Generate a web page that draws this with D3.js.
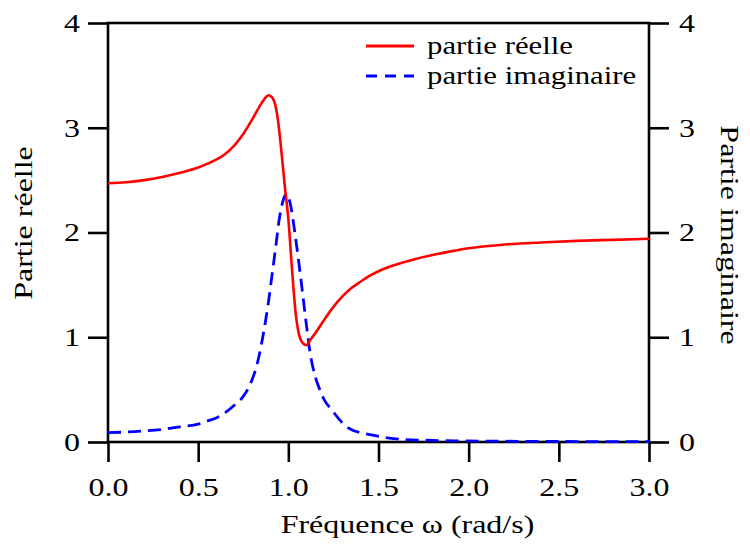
<!DOCTYPE html>
<html>
<head>
<meta charset="utf-8">
<script src="https://cdn.jsdelivr.net/npm/d3@7"></script>
<style>
  html, body { margin: 0; padding: 0; background: #fff; }
  svg { display: block; }
  text { font-family: "Liberation Serif", "Times New Roman", serif; fill: #000; }
</style>
</head>
<body>
<div id="chart"></div>
<script>
/*------------------- Data ----------------------------------------*/
const omegaRe = [0.00, 0.10, 0.20, 0.30, 0.40, 0.50, 0.55, 0.60, 0.65, 0.70, 0.75, 0.80, 0.85, 0.87, 0.89, 0.91, 0.93, 0.945, 0.96, 0.98, 1.00, 1.02, 1.04, 1.06, 1.075, 1.09, 1.10, 1.12, 1.15, 1.20, 1.25, 1.30, 1.35, 1.40, 1.45, 1.50, 1.60, 1.70, 1.80, 1.90, 2.00, 2.20, 2.40, 2.60, 2.80, 3.00];
const partieReelle = [2.47, 2.48, 2.50, 2.53, 2.57, 2.62, 2.655, 2.695, 2.75, 2.83, 2.94, 3.08, 3.23, 3.28, 3.31, 3.29, 3.20, 3.04, 2.80, 2.45, 2.13, 1.66, 1.24, 1.02, 0.955, 0.93, 0.925, 0.97, 1.04, 1.17, 1.29, 1.39, 1.47, 1.53, 1.585, 1.63, 1.695, 1.745, 1.785, 1.82, 1.85, 1.885, 1.905, 1.92, 1.93, 1.94];

const omegaIm = [0.00, 0.10, 0.20, 0.30, 0.40, 0.50, 0.55, 0.60, 0.65, 0.70, 0.76, 0.80, 0.82, 0.84, 0.86, 0.89, 0.91, 0.93, 0.95, 0.97, 0.99, 1.01, 1.04, 1.07, 1.10, 1.12, 1.15, 1.17, 1.20, 1.24, 1.28, 1.31, 1.36, 1.40, 1.46, 1.55, 1.63, 1.80, 2.00, 2.50, 3.00];
const partieImaginaire = [0.09, 0.095, 0.105, 0.12, 0.145, 0.17, 0.20, 0.23, 0.28, 0.35, 0.46, 0.60, 0.70, 0.84, 1.02, 1.34, 1.60, 1.86, 2.13, 2.30, 2.37, 2.28, 1.95, 1.55, 1.12, 0.86, 0.62, 0.52, 0.40, 0.31, 0.22, 0.165, 0.11, 0.09, 0.067, 0.04, 0.025, 0.015, 0.01, 0.005, 0.003];

const xTicks = [0, 0.5, 1.0, 1.5, 2.0, 2.5, 3.0];
const yTicks = [0, 1, 2, 3, 4];

const seriesNames = ["partie réelle", "partie imaginaire"];
const xTitle = "Fréquence ω (rad/s)";
const yLeftTitle = "Partie réelle";
const yRightTitle = "Partie imaginaire";

/*------------------- Layout --------------------*/
const width = 750, height = 545;
const margin = { top: 23, right: 101, bottom: 103, left: 108 };
const innerW = width - margin.left - margin.right;
const innerH = height - margin.top - margin.bottom;
const TEXT_WIDEN = 1.23;   // reference face is wider than Times

// stretch text horizontally so the serif face matches the wider reference glyphs
function widen(sel, k) {
    sel.each(function () {
        const w = this.getComputedTextLength();
        d3.select(this).attr("textLength", w * k).attr("lengthAdjust", "spacingAndGlyphs");
    });
}

const svg = d3.select("#chart").append("svg")
    .attr("width", width)
    .attr("height", height);

const g = svg.append("g").attr("transform", `translate(${margin.left},${margin.top})`);

const x = d3.scaleLinear().domain([0, 3]).range([0, innerW]);
const yL = d3.scaleLinear().domain([0, 4]).range([innerH, 0]);
const yR = d3.scaleLinear().domain([0, 4]).range([innerH, 0]);

/*------------------- Axes --------------------*/
const axisStroke = 2.6;

const xAxis = g.append("g")
    .attr("transform", `translate(0,${innerH})`)
    .call(d3.axisBottom(x).tickValues(xTicks).tickFormat(d3.format(".1f")).tickSize(20).tickSizeOuter(0).tickPadding(16));

const yAxisL = g.append("g")
    .call(d3.axisLeft(yL).tickValues(yTicks).tickFormat(d3.format("d")).tickSize(20).tickSizeOuter(0).tickPadding(8));

const yAxisR = g.append("g")
    .attr("transform", `translate(${innerW},0)`)
    .call(d3.axisRight(yR).tickValues(yTicks).tickFormat(d3.format("d")).tickSize(20).tickSizeOuter(0).tickPadding(10));

[xAxis, yAxisL, yAxisR].forEach(a => {
    a.attr("font-family", null).attr("font-size", null);
    a.select(".domain").remove();
    a.selectAll(".tick line").attr("stroke", "#000").attr("stroke-width", axisStroke);
    a.selectAll(".tick text").style("font-size", "26px").call(widen, TEXT_WIDEN);
});

// frame
g.append("rect")
    .attr("x", 0).attr("y", 0)
    .attr("width", innerW).attr("height", innerH)
    .attr("fill", "none")
    .attr("stroke", "#000")
    .attr("stroke-width", axisStroke);

/*------------------- Curves --------------------*/
const lineRe = d3.line()
    .x((d, i) => x(omegaRe[i]))
    .y(d => yL(d))
    .curve(d3.curveMonotoneX);

const lineIm = d3.line()
    .x((d, i) => x(omegaIm[i]))
    .y(d => yR(d))
    .curve(d3.curveMonotoneX);

g.append("path")
    .attr("d", lineIm(partieImaginaire))
    .attr("fill", "none")
    .attr("stroke", "#0000ff")
    .attr("stroke-width", 2.8)
    .attr("stroke-dasharray", "13,7");

g.append("path")
    .attr("d", lineRe(partieReelle))
    .attr("fill", "none")
    .attr("stroke", "#ff0000")
    .attr("stroke-width", 2.6);

/*------------------- Legend --------------------*/
const legend = g.append("g").attr("transform", `translate(${366 - margin.left},${46 - margin.top})`);
const legendStyles = [
    { color: "#ff0000", dash: null },
    { color: "#0000ff", dash: "11,8" }
];

seriesNames.forEach((name, i) => {
    const row = legend.append("g").attr("transform", `translate(0,${i * 30})`);
    row.append("line")
        .attr("x1", 0).attr("x2", 48)
        .attr("y1", 0).attr("y2", 0)
        .attr("stroke", legendStyles[i].color)
        .attr("stroke-width", 2.8)
        .attr("stroke-dasharray", legendStyles[i].dash);
    row.append("text")
        .attr("x", 61)
        .attr("y", 7.5)
        .style("font-size", "25px")
        .text(name)
        .call(widen, TEXT_WIDEN);
});

/*------------------- Titles --------------------*/
svg.append("text")
    .attr("x", margin.left + innerW / 2 + 29)
    .attr("y", 533)
    .attr("text-anchor", "middle")
    .style("font-size", "26px")
    .text(xTitle)
    .call(widen, TEXT_WIDEN);

svg.append("text")
    .attr("transform", `translate(32,${223}) rotate(-90)`)
    .attr("text-anchor", "middle")
    .style("font-size", "26px")
    .text(yLeftTitle)
    .call(widen, TEXT_WIDEN);

svg.append("text")
    .attr("transform", `translate(721,${235}) rotate(90)`)
    .attr("text-anchor", "middle")
    .style("font-size", "26px")
    .text(yRightTitle)
    .call(widen, TEXT_WIDEN);
</script>
</body>
</html>
